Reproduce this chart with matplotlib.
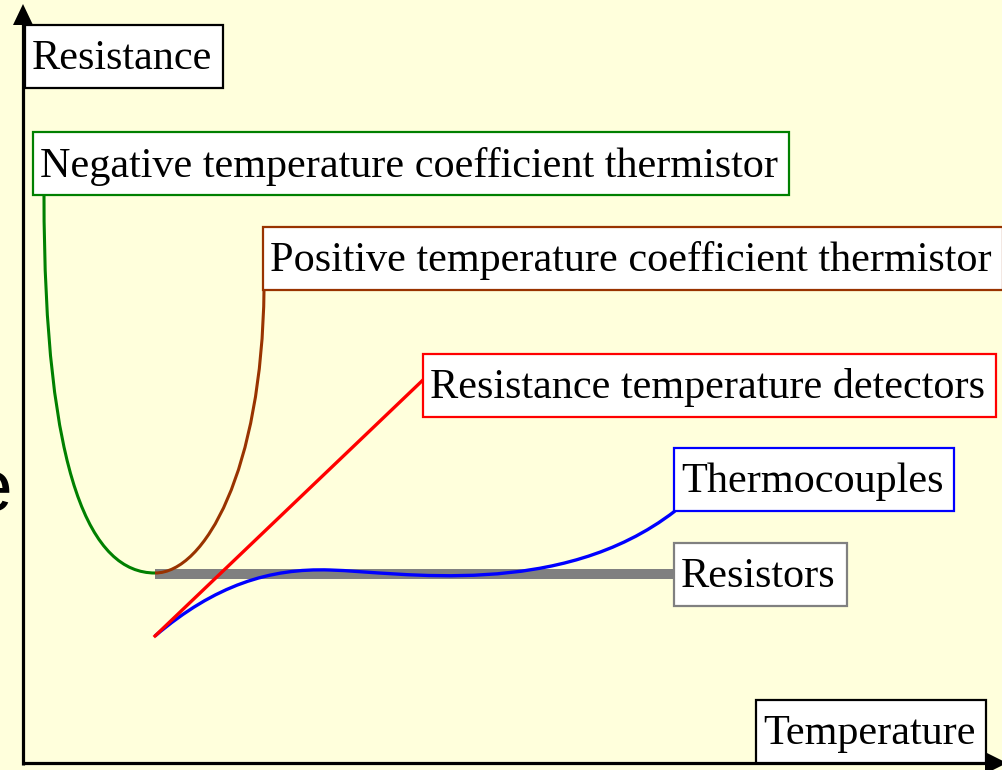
import numpy as np
import matplotlib
matplotlib.use("Agg")
import matplotlib.pyplot as plt
from matplotlib.path import Path
from matplotlib.patches import PathPatch, Rectangle

# sketch coordinates: x = temperature, y = resistance (screen units, y grows downward)
# curves are cubic Bezier segments: start, control, control, end (, control, control, end ...)
ntc_x = [44, 44, 92, 155]
ntc_y = [195, 480, 573, 573]

ptc_x = [155, 205, 262, 264]
ptc_y = [573, 573, 470, 290]

tc_x = [155, 215, 270, 330, 400, 560, 675]
tc_y = [636, 585, 568, 570, 572, 600, 511]

rtd_x = [155, 424]
rtd_y = [636, 379]

res_x = [155, 674]
res_y = [574, 574]

labels = ["Negative temperature coefficient thermistor",
          "Positive temperature coefficient thermistor",
          "Resistance temperature detectors",
          "Thermocouples",
          "Resistors"]
label_x = [40, 270, 430, 681, 681]
label_y = [163.5, 258, 385, 479, 574.5]
colors = ["#008000", "#993300", "#FF0000", "#0000FF", "#808080"]

bg = "#FFFFDC"

fig = plt.figure(figsize=(10.02, 7.7), dpi=100, facecolor=bg)
ax = fig.add_axes([0, 0, 1, 1])
ax.set_facecolor(bg)
ax.set_xlim(0, 1002)
ax.set_ylim(770, 0)
ax.axis("off")

# axes with arrows
ax.plot([23, 23], [765, 22], color="black", lw=2.3, solid_capstyle="butt")
ax.plot([23, 988], [763, 763], color="black", lw=2.3, solid_capstyle="butt")
ax.fill([13, 33, 23], [25, 25, 4], color="black", lw=0)
ax.fill([985, 985, 1007], [752, 774, 763], color="black", lw=0)

# cut-off large letter at the left edge
ax.text(13, 511, "e", family="Liberation Sans", fontsize=54, ha="right",
        va="baseline", color="black")


def bezier(xs, ys, color, lw, z=3):
    verts = list(zip(xs, ys))
    codes = [Path.MOVETO] + [Path.CURVE4] * (len(verts) - 1)
    ax.add_patch(PathPatch(Path(verts, codes), fc="none", ec=color, lw=lw,
                           zorder=z, capstyle="butt"))


ax.plot(res_x, res_y, color="#808080", lw=7.2, solid_capstyle="butt", zorder=2)
bezier(ntc_x, ntc_y, colors[0], 2.2)
bezier(ptc_x, ptc_y, colors[1], 2.2)
bezier(tc_x, tc_y, colors[3], 2.4)
ax.plot(rtd_x, rtd_y, color=colors[2], lw=2.4, zorder=4)

font = dict(family="Liberation Serif", fontsize=30.4, color="black")
texts = []


def boxed(x, y, s, edge):
    t = ax.text(x, y + 2.5, s, ha="left", va="center", zorder=6, **font)
    texts.append((t, x, y, edge))


for s, x, y, c in zip(labels, label_x, label_y, colors):
    boxed(x, y, s, c)

boxed(32, 56.5, "Resistance", "black")
boxed(763, 731, "Temperature", "black")

# white boxes around labels: text extent plus insets
fig.canvas.draw()
renderer = fig.canvas.get_renderer()
inv = ax.transData.inverted()
for t, x, y, edge in texts:
    bb = t.get_window_extent(renderer)
    (x0, _), (x1, _) = inv.transform([[bb.x0, bb.y0], [bb.x1, bb.y1]])
    left = x0 - 7
    right = x1 + 11
    ax.add_patch(Rectangle((left, y - 31.5), right - left, 63, fc="white",
                           ec=edge, lw=1.6, zorder=5))

fig.savefig("out.png", dpi=100, facecolor=bg)
